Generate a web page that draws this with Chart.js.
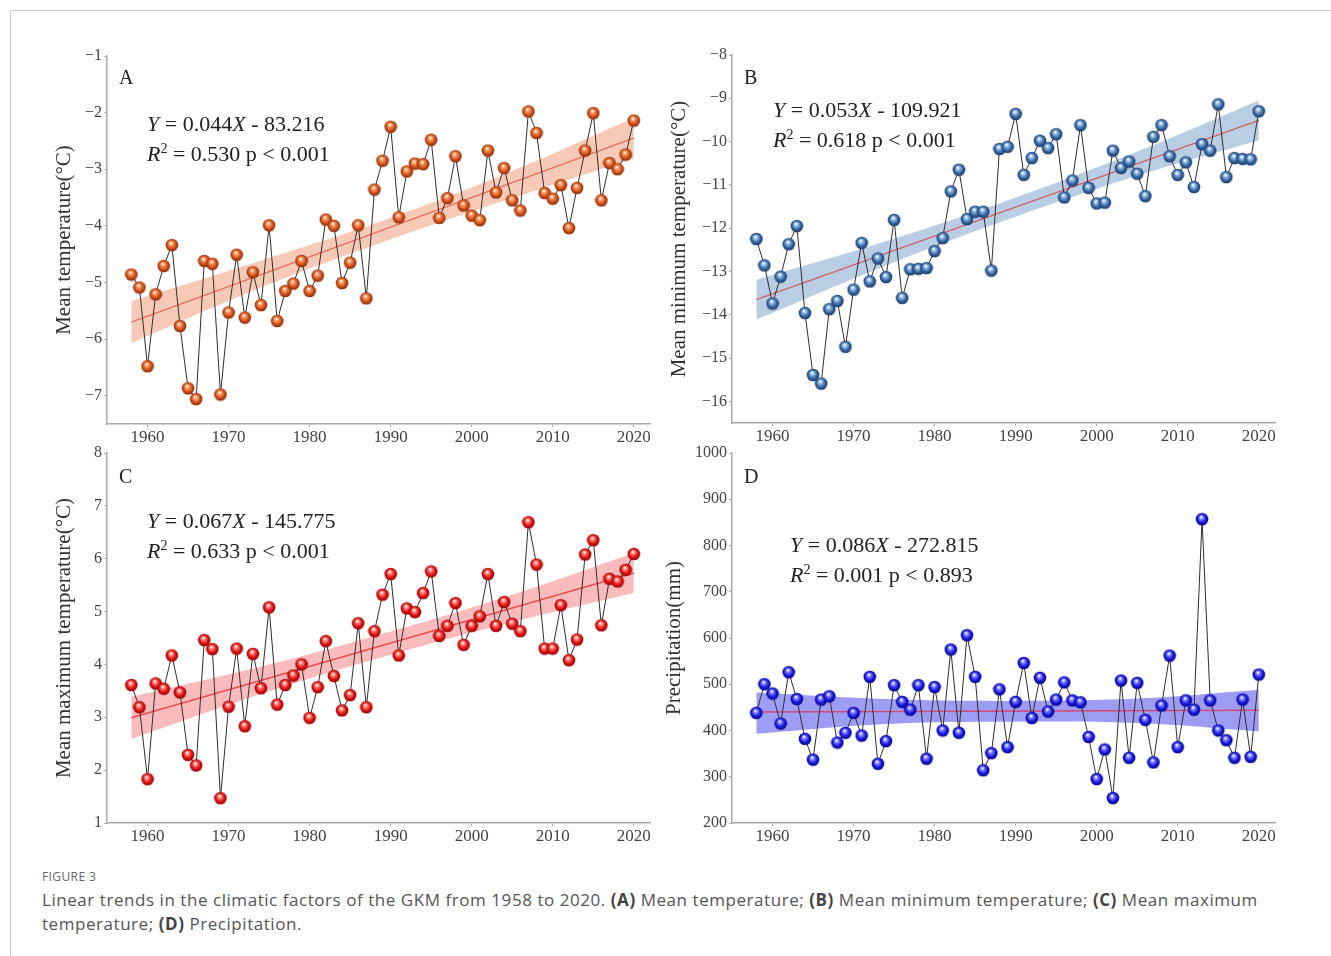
<!DOCTYPE html>
<html>
<head>
<meta charset="utf-8">
<script src="https://cdn.jsdelivr.net/npm/chart.js@4.4.1/dist/chart.umd.min.js"></script>
<style>
  body { margin: 0; background: #fff; width: 1331px; height: 956px; overflow: hidden; position: relative; font-family: 'Liberation Serif', 'Times New Roman', serif; }
  .frame { position: absolute; left: 10px; top: 10px; width: 1400px; height: 1000px; border-left: 1px solid #ccc; border-top: 1px solid #ccc; }
  canvas { position: absolute; }
  .tag { position: absolute; font-size: 20px; line-height: 20px; color: #222; }
  .eq { position: absolute; font-size: 22px; line-height: 30px; color: #222; white-space: nowrap; }
  .eq sup { font-size: 14px; vertical-align: 8px; line-height: 0; }
  .fig-num { position: absolute; left: 42px; top: 868px; font-family: 'Open Sans', sans-serif; font-size: 12px; color: #666; letter-spacing: 0.4px; }
  .caption { position: absolute; left: 42px; top: 888px; font-family: 'Open Sans', sans-serif; font-size: 17px; line-height: 24px; color: #555; letter-spacing: 0.55px; white-space: nowrap; }
  .caption b { font-weight: 700; color: #444; }
</style>
</head>
<body>
<div class="frame"></div>

<canvas id="chart-a" width="645" height="414" style="left:17px;top:40px"></canvas>
<canvas id="chart-b" width="645" height="414" style="left:642px;top:39px"></canvas>
<canvas id="chart-c" width="645" height="416" style="left:17px;top:437px"></canvas>
<canvas id="chart-d" width="645" height="416" style="left:642px;top:437px"></canvas>

<div class="tag" style="left:119px;top:67px">A</div>
<div class="eq" style="left:147px;top:109px"><i>Y</i> = 0.044<i>X</i> - 83.216<br><i>R</i><sup>2</sup> = 0.530 p &lt; 0.001</div>

<div class="tag" style="left:744px;top:67px">B</div>
<div class="eq" style="left:773px;top:95px"><i>Y</i> = 0.053<i>X</i> - 109.921<br><i>R</i><sup>2</sup> = 0.618 p &lt; 0.001</div>

<div class="tag" style="left:119px;top:466px">C</div>
<div class="eq" style="left:147px;top:506px"><i>Y</i> = 0.067<i>X</i> - 145.775<br><i>R</i><sup>2</sup> = 0.633 p &lt; 0.001</div>

<div class="tag" style="left:744px;top:466px">D</div>
<div class="eq" style="left:790px;top:530px"><i>Y</i> = 0.086<i>X</i> - 272.815<br><i>R</i><sup>2</sup> = 0.001 p &lt; 0.893</div>

<div class="fig-num">FIGURE 3</div>
<div class="caption">Linear trends in the climatic factors of the GKM from 1958 to 2020. <b>(A)</b> Mean temperature; <b>(B)</b> Mean minimum temperature; <b>(C)</b> Mean maximum<br>temperature; <b>(D)</b> Precipitation.</div>

<script>
// Years on the x axis
const years = [1958, 1959, 1960, 1961, 1962, 1963, 1964, 1965, 1966, 1967,
  1968, 1969, 1970, 1971, 1972, 1973, 1974, 1975, 1976, 1977,
  1978, 1979, 1980, 1981, 1982, 1983, 1984, 1985, 1986, 1987,
  1988, 1989, 1990, 1991, 1992, 1993, 1994, 1995, 1996, 1997,
  1998, 1999, 2000, 2001, 2002, 2003, 2004, 2005, 2006, 2007,
  2008, 2009, 2010, 2011, 2012, 2013, 2014, 2015, 2016, 2017,
  2018, 2019, 2020];
const yearTicks = [1960, 1970, 1980, 1990, 2000, 2010, 2020];

// (A) Mean temperature (°C)
const meanTemp = [-4.86, -5.09, -6.48, -5.21, -4.71, -4.34, -5.77, -6.87, -7.06, -4.62,
  -4.67, -6.98, -5.53, -4.51, -5.62, -4.82, -5.40, -3.99, -5.68, -5.15,
  -5.02, -4.62, -5.15, -4.88, -3.89, -4.00, -5.01, -4.65, -3.99, -5.28,
  -3.36, -2.85, -2.25, -3.85, -3.04, -2.90, -2.91, -2.48, -3.86, -3.51,
  -2.77, -3.64, -3.82, -3.90, -2.67, -3.41, -2.98, -3.55, -3.73, -1.98,
  -2.36, -3.42, -3.52, -3.28, -4.04, -3.33, -2.67, -2.01, -3.55, -2.89,
  -3.00, -2.74, -2.14];

// (B) Mean minimum temperature (°C)
const minTemp = [-12.25, -12.86, -13.74, -13.12, -12.37, -11.95, -13.96, -15.39, -15.59, -13.87,
  -13.68, -14.74, -13.42, -12.34, -13.23, -12.70, -13.13, -11.81, -13.61, -12.95,
  -12.94, -12.92, -12.53, -12.23, -11.15, -10.65, -11.79, -11.62, -11.62, -12.98,
  -10.17, -10.12, -9.36, -10.77, -10.38, -9.98, -10.15, -9.83, -11.29, -10.90,
  -9.62, -11.07, -11.43, -11.41, -10.21, -10.61, -10.46, -10.74, -11.26, -9.89,
  -9.62, -10.34, -10.77, -10.48, -11.05, -10.06, -10.21, -9.14, -10.82, -10.38,
  -10.40, -10.41, -9.30];

// (C) Mean maximum temperature (°C)
const maxTemp = [3.61, 3.19, 1.83, 3.64, 3.54, 4.17, 3.47, 2.29, 2.09, 4.46,
  4.29, 1.47, 3.20, 4.30, 2.83, 4.20, 3.55, 5.08, 3.24, 3.61,
  3.79, 4.00, 2.99, 3.57, 4.44, 3.78, 3.13, 3.42, 4.78, 3.19,
  4.63, 5.32, 5.71, 4.17, 5.06, 4.99, 5.35, 5.76, 4.54, 4.73,
  5.16, 4.37, 4.73, 4.91, 5.71, 4.73, 5.18, 4.77, 4.63, 6.69,
  5.89, 4.30, 4.30, 5.12, 4.08, 4.47, 6.08, 6.35, 4.74, 5.62,
  5.57, 5.79, 6.09];

// (D) Precipitation (mm)
const precip = [438, 500, 480, 415, 526, 468, 382, 337, 467, 474,
  374, 395, 438, 389, 516, 328, 377, 498, 462, 445,
  498, 339, 494, 400, 575, 395, 606, 516, 314, 351,
  489, 364, 462, 546, 427, 514, 441, 467, 504, 465,
  461, 386, 295, 359, 254, 508, 341, 503, 423, 331,
  454, 562, 364, 465, 445, 857, 465, 400, 379, 341,
  467, 343, 521];

// Fitted trend lines (start / end) and confidence band
const trendYears = [1958, 2020];
const bandYears = [1958, 1974, 1989, 2005, 2020];

const trendA = [-5.70, -2.45];
const bandUpperA = [-5.33, -4.61, -3.91, -3.03, -2.09];
const bandLowerA = [-6.07, -5.09, -4.29, -3.51, -2.81];

const trendB = [-13.65, -9.51];
const bandUpperB = [-13.19, -12.30, -11.36, -10.23, -9.05];
const bandLowerB = [-14.11, -12.86, -11.80, -10.79, -9.97];

const trendC = [2.99, 5.73];
const bandUpperC = [3.39, 3.96, 4.58, 5.32, 6.11];
const bandLowerC = [2.59, 3.44, 4.14, 4.80, 5.35];

const trendD = [440, 444];
const bandUpperD = [482, 468, 464, 469, 488];
const bandLowerD = [393, 414, 419, 416, 398];

// y axis tick labels
const ticksA = [-7, -6, -5, -4, -3, -2, -1];
const ticksB = [-16, -15, -14, -13, -12, -11, -10, -9, -8];
const ticksC = [1, 2, 3, 4, 5, 6, 7, 8];
const ticksD = [200, 300, 400, 500, 600, 700, 800, 900, 1000];

const serif = "'Liberation Serif', 'Times New Roman', serif";

// Small shaded sphere used as point marker
function makeBall(light, base, dark) {
  const c = document.createElement('canvas');
  c.width = c.height = 14;
  const g = c.getContext('2d');
  const grad = g.createRadialGradient(6, 4.8, 0.4, 7, 7, 6.6);
  grad.addColorStop(0, '#ffffff');
  grad.addColorStop(0.22, light);
  grad.addColorStop(0.6, base);
  grad.addColorStop(1, dark);
  g.fillStyle = grad;
  g.beginPath();
  g.arc(7, 7, 6.3, 0, Math.PI * 2);
  g.fill();
  return c;
}

function toPoints(xs, ys) {
  return xs.map((x, i) => ({ x: x, y: ys[i] }));
}

// Render one panel
function renderPanel(id, p) {
  const ctx = document.getElementById(id).getContext('2d');
  new Chart(ctx, {
    type: 'line',
    data: {
      datasets: [
        {
          data: toPoints(years, p.values),
          borderColor: '#2e2e2e',
          borderWidth: 1,
          pointStyle: p.ball,
          pointRadius: 6,
          tension: 0,
          fill: false,
        },
        {
          data: toPoints(trendYears, p.trend),
          borderColor: p.lineColor,
          borderWidth: 1.5,
          pointRadius: 0,
          fill: false,
        },
        {
          data: toPoints(bandYears, p.upper),
          borderColor: 'transparent',
          backgroundColor: p.bandColor,
          pointRadius: 0,
          tension: 0.4,
          fill: '+1',
        },
        {
          data: toPoints(bandYears, p.lower),
          borderColor: 'transparent',
          pointRadius: 0,
          tension: 0.4,
          fill: false,
        },
      ],
    },
    options: {
      responsive: false,
      animation: false,
      layout: { padding: { top: 16, right: 12, left: 0, bottom: 0 } },
      plugins: { legend: { display: false }, tooltip: { enabled: false } },
      scales: {
        x: {
          type: 'linear',
          min: 1955,
          max: 2022,
          afterBuildTicks: s => { s.ticks = yearTicks.map(v => ({ value: v })); },
          afterFit: s => { s.height = 30; },
          grid: { drawOnChartArea: false, drawTicks: true, tickLength: 3, color: '#aaa' },
          border: { color: '#aaa', width: 1.5 },
          ticks: { font: { family: serif, size: 17 }, color: '#444', padding: 0, maxRotation: 0, autoSkip: false, callback: v => String(v) },
        },
        y: {
          min: p.min,
          max: p.max,
          afterBuildTicks: s => { s.ticks = p.ticks.map(v => ({ value: v })); },
          afterFit: s => { s.width = 90; },
          grid: { drawOnChartArea: false, drawTicks: true, tickLength: 3, color: '#aaa' },
          border: { color: '#aaa', width: 1.5 },
          ticks: { font: { family: serif, size: 16 }, color: '#444', padding: 2, autoSkip: false, callback: v => String(v).replace('-', '\u2212') },
          title: { display: true, text: p.title, font: { family: serif, size: 21 }, color: '#333', padding: { top: p.titlePad, bottom: 0 } },
        },
      },
    },
  });
}

// Initialize Page
function init() {
  renderPanel('chart-a', {
    values: meanTemp, trend: trendA, upper: bandUpperA, lower: bandLowerA,
    min: -7.5, max: -1, ticks: ticksA, title: 'Mean temperature(°C)', titlePad: 35,
    ball: makeBall('#f7a06a', '#d9541c', '#7a2406'),
    lineColor: '#ea6f5c', bandColor: 'rgba(238, 150, 112, 0.5)',
  });
  renderPanel('chart-b', {
    values: minTemp, trend: trendB, upper: bandUpperB, lower: bandLowerB,
    min: -16.5, max: -8, ticks: ticksB, title: 'Mean minimum temperature(°C)', titlePad: 25,
    ball: makeBall('#9cc2ea', '#3a6ca6', '#14325e'),
    lineColor: '#d5606e', bandColor: 'rgba(128, 164, 204, 0.55)',
  });
  renderPanel('chart-c', {
    values: maxTemp, trend: trendC, upper: bandUpperC, lower: bandLowerC,
    min: 1, max: 8, ticks: ticksC, title: 'Mean maximum temperature(°C)', titlePad: 35,
    ball: makeBall('#ff8a80', '#e41414', '#880000'),
    lineColor: '#ec4d4d', bandColor: 'rgba(246, 120, 122, 0.5)',
  });
  renderPanel('chart-d', {
    values: precip, trend: trendD, upper: bandUpperD, lower: bandLowerD,
    min: 200, max: 1000, ticks: ticksD, title: 'Precipitation(mm)', titlePad: 20,
    ball: makeBall('#8a8aff', '#1c1ce4', '#00007e'),
    lineColor: '#d24a78', bandColor: 'rgba(92, 92, 236, 0.6)',
  });
}

init();
</script>
</body>
</html>
